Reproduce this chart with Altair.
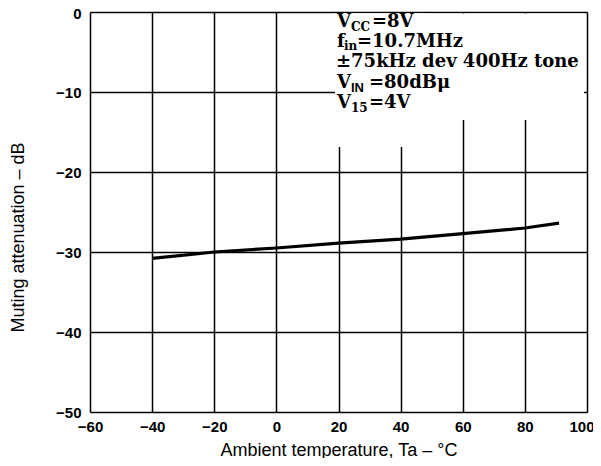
import altair as alt
import pandas as pd

# data
temps = [-40, -20, 0, 20, 40, 60, 80, 91]
atten = [-30.8, -30.0, -29.5, -28.9, -28.4, -27.7, -27.0, -26.4]

x_ticks = [-60, -40, -20, 0, 20, 40, 60, 80, 100]
y_ticks = [0, -10, -20, -30, -40, -50]

df = pd.DataFrame({"t": temps, "a": atten})
one = pd.DataFrame({"k": [0]})

W, H = 497, 400
SERIF = "DejaVu Serif"
FS = 18
SUB = 12

x_enc = alt.X("t:Q", scale=alt.Scale(domain=[-60, 100], nice=False, zero=False),
              axis=alt.Axis(values=x_ticks, title="Ambient temperature, Ta – °C",
                            grid=True, gridColor="black", gridWidth=1.5, gridOpacity=1,
                            ticks=False, domain=False, labelPadding=7,
                            labelFont="Liberation Sans", labelFontWeight="bold", labelFontSize=15,
                            labelColor="black", titleFont="Liberation Sans", titleFontWeight="normal",
                            titleFontSize=18, titleColor="black", titlePadding=7,
                            labelFlush=False,
                            labelAlign=alt.expr("datum.value == 100 ? 'right' : 'center'"),
                            labelOffset=alt.expr("datum.value == 100 ? 7 : 0")))
y_enc = alt.Y("a:Q", scale=alt.Scale(domain=[-50, 0], nice=False, zero=False),
              axis=alt.Axis(values=y_ticks, title="Muting attenuation – dB",
                            grid=True, gridColor="black", gridWidth=1.5, gridOpacity=1,
                            ticks=False, domain=False, labelPadding=9,
                            labelFont="Liberation Sans", labelFontWeight="bold", labelFontSize=15,
                            labelColor="black", titleFont="Liberation Sans", titleFontWeight="normal",
                            titleFontSize=18, titleColor="black",
                            titleX=-72, titleY=225, titleAlign="center", titleBaseline="middle",
                            labelFlush=False,
                            labelOffset=alt.expr("datum.value == 0 ? 1 : 0")))

line = alt.Chart(df).mark_line(color="black", strokeWidth=3.2).encode(x=x_enc, y=y_enc)

# white boxes behind the annotation, hiding grid lines
box1 = alt.Chart(one).mark_rect(color="white").encode(
    x=alt.value(245), x2=alt.value(494), y=alt.value(1.5), y2=alt.value(108))
box2 = alt.Chart(one).mark_rect(color="white").encode(
    x=alt.value(245), x2=alt.value(340), y=alt.value(1.5), y2=alt.value(135))

def txt(s, x, y, size=FS, font=SERIF, weight="bold"):
    return alt.Chart(one).mark_text(text=s, align="left", baseline="alphabetic",
                                    font=font, fontSize=size, fontWeight=weight,
                                    color="black").encode(
        x=alt.value(x), y=alt.value(y))

# annotation pieces
ann_main = ["V", "=8V", "f", "=10.7MHz", "±75kHz dev 400Hz  tone", "V", "=80dBμ", "V", "=4V"]
ann_sub = ["CC", "in", "IN", "15"]

X0 = 247
texts = [
    txt(ann_main[0], X0, 15),
    txt(ann_sub[0], X0 + 14, 19, SUB),
    txt(ann_main[1], X0 + 35, 15),
    txt(ann_main[2], X0, 35),
    txt(ann_sub[1], X0 + 7, 38, SUB),
    txt(ann_main[3], X0 + 20, 35),
    txt(ann_main[4], X0 - 1, 55),
    txt(ann_main[5], X0, 76),
    txt(ann_sub[2], X0 + 14, 80, 13, "Liberation Sans", "bold"),
    txt(ann_main[6], X0 + 32, 76),
    txt(ann_main[7], X0, 96),
    txt(ann_sub[3], X0 + 14, 100, SUB),
    txt(ann_main[8], X0 + 32, 96),
]

chart = alt.layer(line, box1, box2, *texts).properties(
    width=W, height=H,
    autosize=alt.AutoSizeParams(type="none"),
    padding={"left": 82, "top": 4, "right": 6, "bottom": 46},
).configure_view(stroke="black", strokeWidth=2.2).configure(background="white")

chart.save("out.html", embed_options={"renderer": "svg", "actions": False})
